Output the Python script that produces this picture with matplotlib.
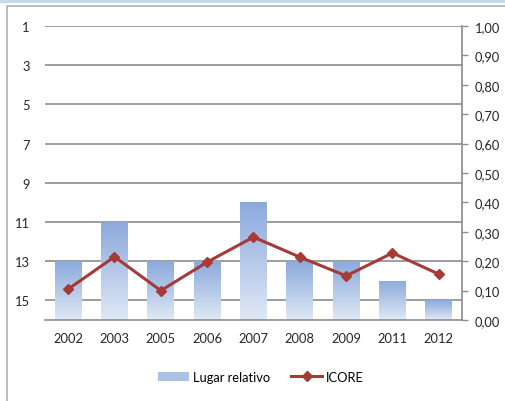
import matplotlib
matplotlib.use("Agg")
import matplotlib.pyplot as plt
import numpy as np
from matplotlib.patches import Rectangle, Patch
from matplotlib.lines import Line2D
from matplotlib.colors import LinearSegmentedColormap

years = ["2002", "2003", "2005", "2006", "2007", "2008", "2009", "2011", "2012"]
lugar = [13, 11, 13, 13, 10, 13, 13, 14, 15]
icore = [0.105, 0.215, 0.10, 0.197, 0.282, 0.214, 0.15, 0.228, 0.156]
left_ticks = [1, 3, 5, 7, 9, 11, 13, 15]
right_ticks = [0.0, 0.1, 0.2, 0.3, 0.4, 0.5, 0.6, 0.7, 0.8, 0.9, 1.0]

plt.rcParams['font.family'] = ['Lato', 'DejaVu Sans']

fig = plt.figure(figsize=(5.05, 4.02), dpi=100)
# top band and border
fig.patches.append(Rectangle((0, 1 - 4/402), 1, 4/402, transform=fig.transFigure,
                             facecolor="#c6d9f1", edgecolor="none", zorder=0))
fig.patches.append(Rectangle((6.5/505, -0.1), 1.2, 1 - 7/402 + 0.1, transform=fig.transFigure,
                             facecolor="none", edgecolor="#b0b0b0", lw=1.2, zorder=0))

ax = fig.add_axes([45/505, (402-321)/402, (462-45)/505, (321-27)/402])
ax.set_facecolor("none")
x = np.arange(len(years))
ymin, ymax = 1, 16
ax.set_xlim(-0.5, len(years) - 0.5)
ax.set_ylim(ymax, ymin)

cmap = LinearSegmentedColormap.from_list("g", ["#dfe8f5", "#8caadc"])
grad = np.linspace(0, 1, 100).reshape(-1, 1)
bw = 0.58
bars = ax.bar(x, [ymax - v for v in lugar], bottom=lugar, width=bw,
              color="none", edgecolor="none", zorder=2)
for b in bars:
    x0, y0 = b.get_x(), b.get_y()
    w, h = b.get_width(), b.get_height()
    im = ax.imshow(grad, extent=(x0, x0 + w, y0 + h, y0), cmap=cmap,
                   aspect="auto", origin="lower", zorder=2,
                   vmin=0, vmax=1)
    im.set_clip_path(b)
ax.set_xlim(-0.5, len(years) - 0.5)
ax.set_ylim(ymax, ymin)

ax.set_yticks(left_ticks)
ax.set_yticklabels([str(t) for t in left_ticks])
ax.yaxis.grid(True, color="#8c8c8c", lw=1.2, zorder=1)
ax.set_axisbelow(True)
ax.tick_params(axis="y", length=0, pad=11, labelsize=9.3, colors="#262626")
ax.set_xticks(x)
ax.set_xticklabels(years)
ax.tick_params(axis="x", length=0, pad=9, labelsize=9.3, colors="#262626")
for s in ["left", "top", "right"]:
    ax.spines[s].set_visible(False)
ax.spines["bottom"].set_color("#8c8c8c")
ax.spines["bottom"].set_linewidth(1.2)

ax2 = ax.twinx()
ax2.set_ylim(0, 1)
ax2.plot(x, icore, color="#a63a37", lw=2.2, marker="D", markersize=5,
         markerfacecolor="#a63a37", markeredgecolor="#a63a37", zorder=5)
ax2.set_yticks(right_ticks)
ax2.set_yticklabels([f"{t:.2f}".replace(".", ",") for t in right_ticks])
ax2.tick_params(axis="y", length=4, width=1, pad=5,
                labelsize=9.3, colors="#8c8c8c", labelcolor="#262626")
for s in ["left", "top", "bottom"]:
    ax2.spines[s].set_visible(False)
ax2.spines["right"].set_color("#8c8c8c")
ax2.spines["right"].set_linewidth(1.2)

handles = [Patch(facecolor="#aac1e8", edgecolor="none"),
           Line2D([0], [0], color="#a63a37", lw=2.2, marker="D", markersize=5)]
fig.legend(handles, ["Lugar relativo", "ICORE"], loc="center",
           bbox_to_anchor=(261/505, 1 - 378/402), ncol=2, frameon=False,
           fontsize=9.3, handlelength=2.4, columnspacing=1.6, handletextpad=0.3)

fig.savefig("out.png", dpi=100)
